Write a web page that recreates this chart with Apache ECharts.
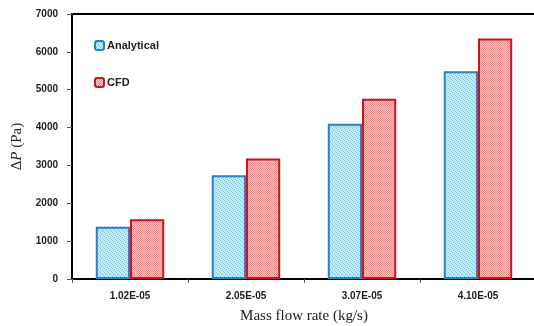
<!DOCTYPE html>
<html><head><meta charset="utf-8">
<script src="https://cdn.jsdelivr.net/npm/echarts@6/dist/echarts.min.js"></script>
<style>html,body{margin:0;padding:0;background:#fff}#c{width:534px;height:326px}</style>
</head><body><div id="c"></div>
<script>
const categories = ['1.02E-05', '2.05E-05', '3.07E-05', '4.10E-05'];
const analytical = [1380, 2740, 4100, 5490];
const cfd = [1580, 3180, 4760, 6350];
const yTicks = [0, 1000, 2000, 3000, 4000, 5000, 6000, 7000];

function makePattern(base, dot, pts) {
  const c = document.createElement('canvas');
  c.width = 4; c.height = 4;
  const g = c.getContext('2d');
  g.fillStyle = base; g.fillRect(0, 0, 4, 4);
  g.fillStyle = dot;
  pts.forEach(p => g.fillRect(p[0], p[1], 1, 1));
  return c;
}
const bluePat = makePattern('#c4ecf7', '#6cc4e6', [[0,0],[2,1],[1,2],[3,3]]);
const redPat = makePattern('#f8cccc', '#e88a8a', [[0,0],[1,1],[2,0],[3,1],[0,2],[1,3],[2,2],[3,3]]);

const chart = echarts.init(document.getElementById('c'));
const lblFont = {fontFamily: 'Liberation Sans, Arial, sans-serif', fontWeight: 'bold', fontSize: 10, color: '#222'};
chart.setOption({
  animation: false,
  grid: {left: 72, right: -2, top: 14, bottom: 47, containLabel: false, outerBoundsMode: 'none'},
  legend: {
    orient: 'vertical', left: 89, top: 35, itemGap: 26, itemWidth: 9, itemHeight: 9,
    textStyle: Object.assign({}, lblFont, {fontSize: 11, color: '#222', padding: [0, 0, 0, -2]}),
    data: ['Analytical', 'CFD']
  },
  xAxis: [{
    type: 'category', data: categories,
    axisLine: {lineStyle: {color: '#000', width: 2}},
    axisTick: {show: true, inside: false, length: 4, lineStyle: {color: '#555'}},
    axisLabel: Object.assign({margin: 12}, lblFont),
    name: 'Mass flow rate (kg/s)', nameLocation: 'middle', nameGap: 30,
    nameTextStyle: {fontFamily: 'Liberation Serif, Times New Roman, serif', fontSize: 15, color: '#222'}
  }, {
    type: 'category', data: categories, position: 'top',
    axisLine: {show: true, lineStyle: {color: '#000', width: 2}},
    axisTick: {show: false}, axisLabel: {show: false}
  }],
  yAxis: {
    type: 'value', min: yTicks[0], max: yTicks[yTicks.length - 1], interval: 1000,
    splitLine: {show: false},
    axisLine: {show: true, lineStyle: {color: '#000', width: 2}},
    axisTick: {show: true, inside: false, length: 5, lineStyle: {color: '#555'}},
    axisLabel: Object.assign({margin: 14, formatter: v => String(v)}, lblFont),
    name: '{a|Δ}{b|P}{a| (Pa)}', nameLocation: 'middle', nameGap: 40, nameRotate: 90,
    nameTextStyle: {
      rich: {
        a: {fontFamily: 'Liberation Serif, Times New Roman, serif', fontSize: 15, color: '#222'},
        b: {fontFamily: 'Liberation Serif, Times New Roman, serif', fontSize: 15, fontStyle: 'italic', color: '#222'}
      }
    }
  },
  series: [{
    name: 'Analytical', type: 'bar', data: analytical, barGap: '0%', barCategoryGap: '41%',
    itemStyle: {color: {image: bluePat, repeat: 'repeat'}, borderColor: '#2a7fc8', borderWidth: 2}
  }, {
    name: 'CFD', type: 'bar', data: cfd,
    itemStyle: {color: {image: redPat, repeat: 'repeat'}, borderColor: '#c8141e', borderWidth: 2}
  }]
});
</script></body></html>
